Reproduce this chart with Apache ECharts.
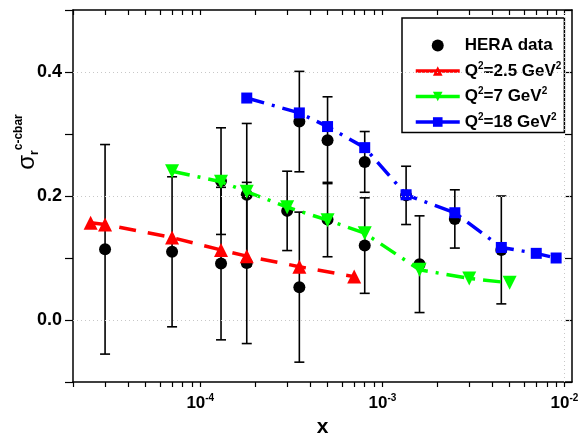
<!DOCTYPE html>
<html lang="en">
<head>
    <meta charset="UTF-8">
    <title>sigma_r c-cbar</title>
    <script type="text/javascript" src="https://cdn.jsdelivr.net/npm/echarts@6/dist/echarts.min.js"></script>
</head>
<body style="margin:0">
    <div id="container" style="width:580px;height:434px"></div>

    <script type="text/javascript">
        // HERA data points (x, sigma, symmetric error)
        var heraX = [3e-5, 7e-5, 1.3e-4, 1.3e-4, 1.8e-4, 1.8e-4, 3e-4, 3.5e-4, 3.5e-4, 5e-4, 5e-4, 8e-4, 8e-4, 1.35e-3, 1.6e-3, 2.5e-3, 4.5e-3];
        var heraY = [0.114, 0.110, 0.224, 0.091, 0.202, 0.092, 0.176, 0.320, 0.053, 0.290, 0.162, 0.255, 0.120, 0.201, 0.090, 0.163, 0.113];
        var heraErr = [0.169, 0.121, 0.086, 0.123, 0.115, 0.130, 0.064, 0.081, 0.121, 0.070, 0.060, 0.049, 0.077, 0.047, 0.078, 0.047, 0.087];

        // model curves
        var q25X = [2.5e-5, 3e-5, 7e-5, 1.3e-4, 1.8e-4, 3.5e-4, 7e-4];
        var q25Y = [0.157, 0.154, 0.133, 0.113, 0.103, 0.086, 0.070];
        var q7X = [7e-5, 1.3e-4, 1.8e-4, 3e-4, 5e-4, 8e-4, 1.6e-3, 3e-3, 5e-3];
        var q7Y = [0.240, 0.223, 0.207, 0.182, 0.161, 0.140, 0.081, 0.067, 0.060];
        var q18X = [1.8e-4, 3.5e-4, 5e-4, 8e-4, 1.35e-3, 2.5e-3, 4.5e-3, 7e-3, 9e-3];
        var q18Y = [0.358, 0.334, 0.312, 0.278, 0.202, 0.173, 0.117, 0.1075, 0.100];

        var seriesNames = ['HERA data', 'Q2=2.5', 'Q2=7', 'Q2=18'];
        var seriesColors = ['#000000', '#ff0000', '#00ff00', '#0000ff'];
        var legendLabels = {
            'HERA data': '{b|HERA data}',
            'Q2=2.5': '{b|Q}{s|2}{b|=2.5 GeV}{s|2}',
            'Q2=7': '{b|Q}{s|2}{b|=7 GeV}{s|2}',
            'Q2=18': '{b|Q}{s|2}{b|=18 GeV}{s|2}'
        };

        // axes
        var xMin = 2e-5, xMax = 1.1e-2;
        var xLabelTicks = [1e-4, 1e-3, 1e-2];
        var xAllTicks = [2e-5, 3e-5, 4e-5, 5e-5, 6e-5, 7e-5, 8e-5, 9e-5,
            1e-4, 2e-4, 3e-4, 4e-4, 5e-4, 6e-4, 7e-4, 8e-4, 9e-4,
            1e-3, 2e-3, 3e-3, 4e-3, 5e-3, 6e-3, 7e-3, 8e-3, 9e-3, 1e-2];
        var yMin = -0.1, yMax = 0.5, yStep = 0.1;
        var yLabelValues = [0.0, 0.2, 0.4];
        var xGrid = [1e-4, 1e-3, 1e-2];
        var yGrid = [0.0, 0.2, 0.4];

        var FONT = '"Liberation Sans", Arial, sans-serif';

        function pairs(xs, ys) {
            return xs.map(function (x, i) { return [x, ys[i]]; });
        }

        var errData = heraX.map(function (x, i) { return [x, heraY[i], heraErr[i]]; });

        var gridLines = xGrid.map(function (v) { return {xAxis: v}; })
            .concat(yGrid.map(function (v) { return {yAxis: v}; }));

        var legendData = seriesNames.map(function (n, i) {
            return {name: n, lineStyle: {type: 'solid', width: 3.5, color: seriesColors[i], dashOffset: 0}};
        });

        var dom = document.getElementById("container");
        var myChart = echarts.init(dom);

        var option = {
            animation: false,
            backgroundColor: '#fff',
            grid: {left: 73, right: 8, top: 10, bottom: 52, outerBoundsMode: 'none', containLabel: false},
            textStyle: {fontFamily: FONT},
            legend: {
                orient: 'vertical',
                left: 402,
                top: 18,
                padding: [19, 3, 2, 12],
                itemGap: 7,
                itemWidth: 44,
                itemHeight: 12,
                borderColor: '#000',
                borderWidth: 1.5,
                borderRadius: 0,
                data: legendData,
                formatter: function (name) { return legendLabels[name]; },
                textStyle: {
                    color: '#000',
                    rich: {
                        b: {fontFamily: FONT, fontWeight: 'bold', fontSize: 17, color: '#000', lineHeight: 20},
                        s: {fontFamily: FONT, fontWeight: 'bold', fontSize: 10, color: '#000', verticalAlign: 'top'}
                    }
                }
            },
            xAxis: [{
                type: 'log',
                logBase: 10,
                min: xMin,
                max: xMax,
                position: 'bottom',
                name: 'x',
                nameLocation: 'middle',
                nameGap: 32,
                nameTextStyle: {fontFamily: FONT, fontWeight: 'bold', fontSize: 21, color: '#000'},
                axisLine: {onZero: false, lineStyle: {color: '#000', width: 1.5}},
                axisTick: {customValues: xAllTicks, length: 5, lineStyle: {color: '#000', width: 1.2}},
                axisLabel: {
                    customValues: xLabelTicks,
                    margin: 11,
                    formatter: function (v) {
                        return '{b|10}{s|' + Math.round(Math.log10(v)) + '}';
                    },
                    rich: {
                        b: {fontFamily: FONT, fontWeight: 'bold', fontSize: 17, color: '#000', lineHeight: 20},
                        s: {fontFamily: FONT, fontWeight: 'bold', fontSize: 10, color: '#000', verticalAlign: 'top'}
                    }
                },
                splitLine: {show: false}
            }, {
                type: 'log',
                logBase: 10,
                min: xMin,
                max: xMax,
                position: 'top',
                axisLine: {onZero: false, lineStyle: {color: '#000', width: 1.5}},
                axisTick: {inside: true, customValues: xAllTicks, length: 5, lineStyle: {color: '#000', width: 1.2}},
                axisLabel: {show: false},
                splitLine: {show: false}
            }],
            yAxis: [{
                type: 'value',
                min: yMin,
                max: yMax,
                interval: yStep,
                position: 'left',
                axisLine: {show: true, onZero: false, lineStyle: {color: '#000', width: 1.5}},
                axisTick: {show: true, length: 8, lineStyle: {color: '#000', width: 1.2}},
                axisLabel: {
                    margin: 11,
                    color: '#000',
                    fontFamily: FONT,
                    fontWeight: 'bold',
                    fontSize: 18,
                    formatter: function (v) {
                        for (var i = 0; i < yLabelValues.length; i++) {
                            if (Math.abs(v - yLabelValues[i]) < 1e-6) return yLabelValues[i].toFixed(1);
                        }
                        return '';
                    }
                },
                splitLine: {show: false}
            }, {
                type: 'value',
                min: yMin,
                max: yMax,
                interval: yStep,
                position: 'right',
                axisLine: {show: true, onZero: false, lineStyle: {color: '#000', width: 1.5}},
                axisTick: {show: true, inside: true, length: 7, lineStyle: {color: '#000', width: 1.2}},
                axisLabel: {show: false},
                splitLine: {show: false}
            }],
            graphic: [{
                type: 'text',
                x: 27,
                y: 142,
                rotation: Math.PI / 2,
                style: {
                    text: '{g|σ}{r|r}{c|c-cbar}',
                    align: 'center',
                    verticalAlign: 'middle',
                    rich: {
                        g: {fontFamily: FONT, fontSize: 24, fill: '#000', lineHeight: 28},
                        r: {fontFamily: FONT, fontWeight: 'bold', fontSize: 12, fill: '#000', verticalAlign: 'bottom'},
                        c: {fontFamily: FONT, fontWeight: 'bold', fontSize: 12, fill: '#000', verticalAlign: 'top'}
                    }
                }
            }],
            series: [{
                type: 'custom',
                name: 'errors',
                z: 2,
                silent: true,
                data: errData,
                encode: {x: 0, y: 1},
                renderItem: function (params, api) {
                    var x = api.value(0), y = api.value(1), e = api.value(2);
                    var top = api.coord([x, y + e]);
                    var bot = api.coord([x, y - e]);
                    var hw = 5;
                    var st = {stroke: '#000', lineWidth: 1.6};
                    return {
                        type: 'group',
                        children: [
                            {type: 'line', shape: {x1: top[0], y1: top[1], x2: bot[0], y2: bot[1]}, style: st},
                            {type: 'line', shape: {x1: top[0] - hw, y1: top[1], x2: top[0] + hw, y2: top[1]}, style: st},
                            {type: 'line', shape: {x1: bot[0] - hw, y1: bot[1], x2: bot[0] + hw, y2: bot[1]}, style: st}
                        ]
                    };
                },
                markLine: {
                    silent: true,
                    symbol: ['none', 'none'],
                    label: {show: false},
                    lineStyle: {color: '#c8c8c8', type: [1, 3], width: 1},
                    data: gridLines
                }
            }, {
                type: 'scatter',
                name: 'HERA data',
                z: 3,
                symbol: 'circle',
                symbolSize: 12,
                itemStyle: {color: '#000', opacity: 1},
                data: pairs(heraX, heraY)
            }, {
                type: 'line',
                name: 'Q2=2.5',
                z: 4,
                symbol: 'triangle',
                symbolSize: 14,
                color: '#ff0000',
                lineStyle: {color: '#ff0000', width: 3.5, type: [17, 12]},
                itemStyle: {color: '#ff0000'},
                data: pairs(q25X, q25Y)
            }, {
                type: 'line',
                name: 'Q2=7',
                z: 4,
                symbol: 'triangle',
                symbolRotate: 180,
                symbolSize: 14,
                color: '#00ff00',
                lineStyle: {color: '#00ff00', width: 3.5, type: [18, 8, 3, 8]},
                itemStyle: {color: '#00ff00'},
                data: pairs(q7X, q7Y)
            }, {
                type: 'line',
                name: 'Q2=18',
                z: 4,
                symbol: 'rect',
                symbolSize: 11,
                color: '#0000ff',
                lineStyle: {color: '#0000ff', width: 3.5, type: [18, 8, 3, 8]},
                itemStyle: {color: '#0000ff'},
                data: pairs(q18X, q18Y)
            }]
        };

        myChart.setOption(option);
    </script>
</body>
</html>
